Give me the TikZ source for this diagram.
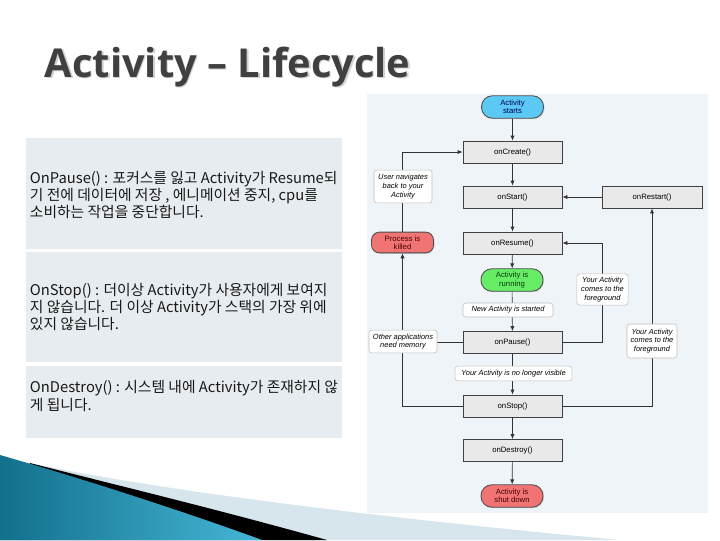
\documentclass[tikz,border=0pt]{standalone}
\usepackage{fontspec}
\setmainfont{Liberation Sans}
\newfontfamily\kofont{Noto Sans CJK KR}
\newfontfamily\titlefont{Open Sans}
\usepackage{tikz}
\usetikzlibrary{arrows.meta,shadows}
\definecolor{panelbg}{RGB}{239,244,248}
\definecolor{textbg}{RGB}{231,236,240}
\definecolor{boxfill}{RGB}{233,233,233}
\definecolor{startblue}{RGB}{92,200,244}
\definecolor{rungreen}{RGB}{104,236,104}
\definecolor{killred}{RGB}{240,116,116}
\definecolor{titlegray}{RGB}{64,64,64}
\definecolor{swooshlight}{RGB}{214,230,236}
\definecolor{swooshdark}{RGB}{18,112,140}
\definecolor{swooshmid}{RGB}{70,182,214}

\begin{document}
\begin{tikzpicture}[x=0.025cm, y=-0.025cm,
    callbox/.style={draw=black!75, fill=boxfill, line width=0.6pt,
      minimum width=2.475cm, minimum height=0.55cm, inner sep=0pt,
      font=\fontsize{5.5}{6.5}\selectfont,
      drop shadow={opacity=0.3, shadow xshift=0.7pt, shadow yshift=-0.7pt}},
    pill/.style={draw=black!70, line width=0.6pt, rounded corners=0.27cm,
      minimum width=1.55cm, minimum height=0.56cm, inner sep=0pt, align=center,
      font=\fontsize{5.5}{6}\selectfont,
      drop shadow={opacity=0.3, shadow xshift=0.7pt, shadow yshift=-0.7pt}},
    note/.style={draw=black!25, fill=white, rounded corners=2pt, inner sep=1pt,
      align=center, font=\fontsize{5.3}{6.3}\selectfont\itshape},
    arr/.style={draw=black!80, line width=0.5pt, -{Latex[length=3.5pt,width=3pt]}},
    link/.style={draw=black!80, line width=0.5pt},
    textblock/.style={fill=textbg, draw=none},
    kotext/.style={anchor=west, align=left, text=black!90,
      font=\kofont\fontsize{10.5}{12.2}\selectfont}]
  \useasboundingbox (0,0) rectangle (720,540);

  % 1. Title
  \node[anchor=base west, text=black!18, font=\titlefont\bfseries\fontsize{28.3}{32}\selectfont]
    (titleshadow) at (41.5,78.5) {Activity – Lifecycle};
  \node[anchor=base west, text=titlegray, font=\titlefont\bfseries\fontsize{28.3}{32}\selectfont]
    (title) at (40,77) {Activity – Lifecycle};

  % 2. Text blocks on the left
  \fill[textblock] (26,138) rectangle (342,249);
  \fill[textblock] (26,252) rectangle (342,362);
  \fill[textblock] (26,366) rectangle (342,438);
  \node[kotext] (pausetext) at (25,195)
    {OnPause() : 포커스를 잃고 Activity가 Resume되\\
     기 전에 데이터에 저장 , 에니메이션 중지, cpu를\\
     소비하는 작업을 중단합니다.};
  \node[kotext] (stoptext) at (25,307)
    {OnStop() : 더이상 Activity가 사용자에게 보여지\\
     지 않습니다. 더 이상 Activity가 스택의 가장 위에\\
     있지 않습니다.};
  \node[kotext] (destroytext) at (25,396)
    {OnDestroy() : 시스템 내에 Activity가 존재하지 않\\
     게 됩니다.};

  % 3. Lifecycle chart
  \fill[panelbg] (367,94) rectangle (708,513);

  \node[pill, fill=startblue, text=blue!35!black] (start) at (512.5,107) {Activity\\starts};
  \node[callbox] (create) at (512.5,152) {onCreate()};
  \node[callbox] (onstart) at (512.5,197) {onStart()};
  \node[callbox, minimum width=2.5cm] (restart) at (652,197) {onRestart()};
  \node[callbox] (resume) at (512.5,243) {onResume()};
  \node[pill, fill=rungreen, text=green!25!black] (running) at (512,280) {Activity is\\running};
  \node[callbox] (pause) at (512.5,342.5) {onPause()};
  \node[callbox] (stop) at (512.5,406) {onStop()};
  \node[callbox] (destroy) at (512.5,450.5) {onDestroy()};
  \node[pill, fill=killred, text=red!30!black] (shut) at (512,496) {Activity is\\shut down};
  \node[pill, fill=killred, text=red!30!black, rounded corners=0.2cm,
    minimum height=0.52cm] (killed) at (402.5,242.5) {Process is\\killed};

  % main path
  \draw[arr] (start) -- (create);
  \draw[arr] (create) -- (onstart);
  \draw[arr] (onstart) -- (resume);
  \draw[arr] (resume) -- (running);
  \draw[arr] (running) -- (pause);
  \draw[arr] (pause) -- (stop);
  \draw[arr] (stop) -- (destroy);
  \draw[arr] (destroy) -- (shut);

  % side loops
  \draw[arr] (restart) -- (onstart);
  \draw[arr] (pause.east) -- ++(40,0) |- (resume.east);
  \draw[arr] (stop.east) -| (restart.south);
  \draw[arr] (stop.west) -| (killed.south);
  \draw[link] (pause.west) -- (killed.south |- pause.west);
  \draw[arr] (killed.north) |- (create.west);

  % notes on the connectors
  \node[note, minimum width=1.45cm, minimum height=0.82cm] (navnote) at (403,186.5)
    {User navigates\\back to your\\Activity};
  \node[note, minimum width=1.7cm, minimum height=0.57cm] (memnote) at (403,341.5)
    {Other applications\\need memory};
  \node[note, minimum width=1.28cm, minimum height=0.78cm] (fgnote) at (602.5,289.5)
    {Your Activity\\comes to the\\foreground};
  \node[note, minimum width=1.25cm, minimum height=0.85cm] (fgnotetwo) at (652,341)
    {Your Activity\\comes to the\\foreground};
  \node[note, minimum width=2.25cm, minimum height=0.35cm] (newnote) at (508,310)
    {New Activity is started};
  \node[note, minimum width=2.92cm, minimum height=0.37cm] (hidenote) at (513.5,373.5)
    {Your Activity is no longer visible};

  % 4. Swoosh in the corner
  \fill[swooshlight] (40,465) .. controls (150,488) and (350,515) .. (620,540) -- (0,540) -- cycle;
  \fill[black] (30,463) .. controls (120,486) and (220,510) .. (327,540) -- (0,540) -- cycle;
  \shade[left color=swooshdark, right color=swooshmid]
    (0,455) .. controls (80,478) and (180,510) .. (262,540) -- (0,540) -- cycle;
\end{tikzpicture}
\end{document}
